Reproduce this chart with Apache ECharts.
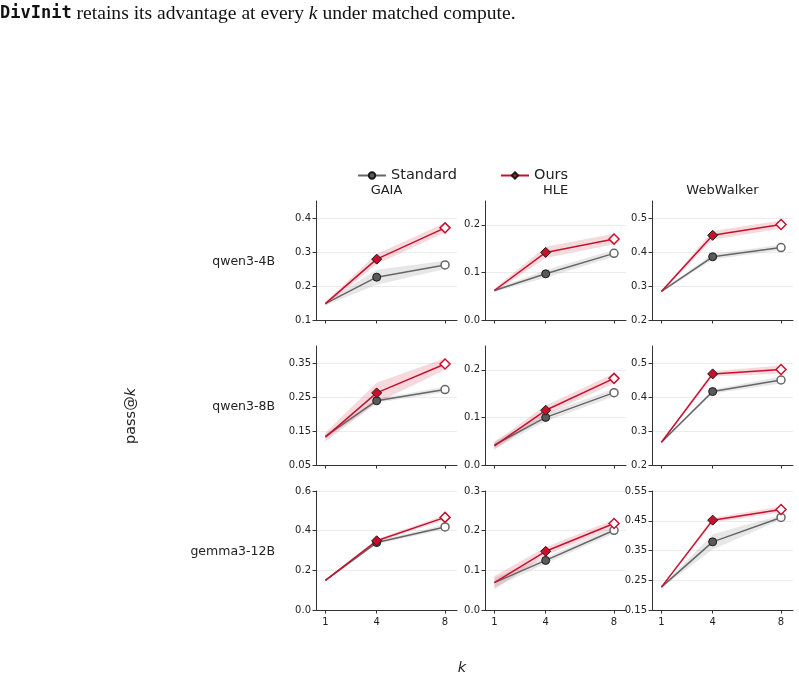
<!DOCTYPE html>
<html><head><meta charset="utf-8">
<script src="https://cdn.jsdelivr.net/npm/echarts@6/dist/echarts.min.js"></script>
<style>html,body{margin:0;padding:0;background:#fff}#c{width:799px;height:680px}</style>
</head><body><div id="c"></div>
<script>
// ---------- data ----------
const K = [1, 4, 8];
const BENCHMARKS = ['GAIA', 'HLE', 'WebWalker'];
const MODELS = ['qwen3-4B', 'qwen3-8B', 'gemma3-12B'];

// qwen3-4B
const std_q4_gaia = [0.148, 0.226, 0.262];  const stdErr_q4_gaia = [0.005, 0.022, 0.012];
const ours_q4_gaia = [0.148, 0.279, 0.371]; const oursErr_q4_gaia = [0.006, 0.015, 0.014];
const std_q4_hle = [0.062, 0.097, 0.140];   const stdErr_q4_hle = [0.003, 0.008, 0.007];
const ours_q4_hle = [0.062, 0.142, 0.170];  const oursErr_q4_hle = [0.004, 0.012, 0.011];
const std_q4_web = [0.284, 0.386, 0.413];   const stdErr_q4_web = [0.003, 0.008, 0.008];
const ours_q4_web = [0.284, 0.449, 0.481];  const oursErr_q4_web = [0.003, 0.013, 0.012];
// qwen3-8B
const std_q8_gaia = [0.134, 0.239, 0.272];  const stdErr_q8_gaia = [0.006, 0.006, 0.008];
const ours_q8_gaia = [0.132, 0.262, 0.347]; const oursErr_q8_gaia = [0.013, 0.030, 0.017];
const std_q8_hle = [0.042, 0.100, 0.152];   const stdErr_q8_hle = [0.008, 0.008, 0.008];
const ours_q8_hle = [0.040, 0.115, 0.182];  const oursErr_q8_hle = [0.008, 0.010, 0.010];
const std_q8_web = [0.267, 0.416, 0.450];   const stdErr_q8_web = [0.003, 0.006, 0.010];
const ours_q8_web = [0.267, 0.468, 0.481];  const oursErr_q8_web = [0.003, 0.008, 0.012];
// gemma3-12B
const std_g12_gaia = [0.149, 0.340, 0.419];  const stdErr_g12_gaia = [0.004, 0.008, 0.012];
const ours_g12_gaia = [0.149, 0.349, 0.467]; const oursErr_g12_gaia = [0.004, 0.008, 0.012];
const std_g12_hle = [0.069, 0.125, 0.201];   const stdErr_g12_hle = [0.012, 0.008, 0.008];
const ours_g12_hle = [0.069, 0.148, 0.218];  const oursErr_g12_hle = [0.017, 0.010, 0.010];
const std_g12_web = [0.227, 0.379, 0.461];   const stdErr_g12_web = [0.003, 0.026, 0.008];
const ours_g12_web = [0.227, 0.452, 0.488];  const oursErr_g12_web = [0.003, 0.008, 0.010];

// y-axis ranges and tick labels (rows: models, cols: benchmarks)
const yRange_q4 = [[0.1, 0.45], [0, 0.25], [0.2, 0.55]];
const yTicks_q4 = [[0.1, 0.2, 0.3, 0.4], [0, 0.1, 0.2], [0.2, 0.3, 0.4, 0.5]];
const yRange_q8 = [[0.05, 0.40], [0, 0.25], [0.2, 0.55]];
const yTicks_q8 = [[0.05, 0.15, 0.25, 0.35], [0, 0.1, 0.2], [0.2, 0.3, 0.4, 0.5]];
const yRange_g12 = [[0, 0.6], [0, 0.3], [0.15, 0.55]];
const yTicks_g12 = [[0, 0.2, 0.4, 0.6], [0, 0.1, 0.2, 0.3], [0.15, 0.25, 0.35, 0.45, 0.55]];
const xTicks = [1, 4, 8];

// ---------- assembly ----------
const rows = [
  {std: [std_q4_gaia, std_q4_hle, std_q4_web], stdErr: [stdErr_q4_gaia, stdErr_q4_hle, stdErr_q4_web],
   ours: [ours_q4_gaia, ours_q4_hle, ours_q4_web], oursErr: [oursErr_q4_gaia, oursErr_q4_hle, oursErr_q4_web],
   range: yRange_q4, ticks: yTicks_q4},
  {std: [std_q8_gaia, std_q8_hle, std_q8_web], stdErr: [stdErr_q8_gaia, stdErr_q8_hle, stdErr_q8_web],
   ours: [ours_q8_gaia, ours_q8_hle, ours_q8_web], oursErr: [oursErr_q8_gaia, oursErr_q8_hle, oursErr_q8_web],
   range: yRange_q8, ticks: yTicks_q8},
  {std: [std_g12_gaia, std_g12_hle, std_g12_web], stdErr: [stdErr_g12_gaia, stdErr_g12_hle, stdErr_g12_web],
   ours: [ours_g12_gaia, ours_g12_hle, ours_g12_web], oursErr: [oursErr_g12_gaia, oursErr_g12_hle, oursErr_g12_web],
   range: yRange_g12, ticks: yTicks_g12}
];

const FONT = 'DejaVu Sans';
const RED = '#c8102e', GRAY = '#666666';
const colLeft = [316, 485, 652], rowTop = [201, 346, 491], W = 141, H = 119;
const axisColor = '#333';

const grids = [], xAxes = [], yAxes = [], series = [], graphics = [];

function decimals(ticks) {
  return ticks.some(t => Math.abs(t * 10 - Math.round(t * 10)) > 1e-9) ? 2 : 1;
}

function band(p, mean, err, color) {
  const pts = mean.map((m, i) => [K[i], m - err[i], m + err[i]]);
  return {
    type: 'custom', xAxisIndex: p, yAxisIndex: p, silent: true, z: 1,
    encode: {x: 0, y: [1, 2]},
    data: pts,
    renderItem: function (params, api) {
      if (params.dataIndex !== 0) return null;
      const upper = pts.map(d => api.coord([d[0], d[2]]));
      const lower = pts.map(d => api.coord([d[0], d[1]])).reverse();
      return {type: 'polygon', shape: {points: upper.concat(lower)}, style: {fill: color}};
    }
  };
}

function mainLine(p, name, mean, lineColor, fill, symbol, size) {
  return {
    type: 'line', name: name, xAxisIndex: p, yAxisIndex: p, z: 3,
    symbol: symbol, symbolSize: size, showAllSymbol: true,
    lineStyle: {color: lineColor, width: 1.5},
    itemStyle: {color: fill, borderColor: '#1a1a1a', borderWidth: 1},
    data: mean.map((m, i) => {
      if (i === 0) return {value: [K[i], m], symbol: 'none'};
      if (i === mean.length - 1) return {value: [K[i], m], itemStyle: {color: '#ffffff', borderColor: lineColor, borderWidth: 1.5}};
      return {value: [K[i], m]};
    })
  };
}

rows.forEach((row, r) => {
  BENCHMARKS.forEach((b, c) => {
    const p = r * 3 + c;
    grids.push({left: colLeft[c], top: rowTop[r], width: W, height: H});
    xAxes.push({
      type: 'value', gridIndex: p, min: 0.45, max: 8.7,
      axisLine: {show: true, onZero: false, lineStyle: {color: axisColor, width: 1}},
      axisTick: {show: true, length: 3.5, customValues: xTicks, lineStyle: {color: axisColor}},
      axisLabel: {show: r === 2, customValues: xTicks, fontSize: 10, color: '#222', fontFamily: FONT, margin: 7},
      splitLine: {show: false}
    });
    const dec = decimals(row.ticks[c]);
    yAxes.push({
      type: 'value', gridIndex: p, min: row.range[c][0], max: row.range[c][1],
      axisLine: {show: true, onZero: false, lineStyle: {color: axisColor, width: 1}},
      axisTick: {show: true, length: 3.5, customValues: row.ticks[c], lineStyle: {color: axisColor}},
      axisLabel: {show: true, customValues: row.ticks[c], fontSize: 10, color: '#222', fontFamily: FONT, margin: 5,
                  formatter: v => Number(v).toFixed(dec)},
      splitLine: {show: true, lineStyle: {color: '#ececec', width: 1}}
    });
    series.push(band(p, row.std[c], row.stdErr[c], 'rgba(120,120,120,0.18)'));
    series.push(band(p, row.ours[c], row.oursErr[c], 'rgba(200,16,46,0.16)'));
    series.push(mainLine(p, 'Standard', row.std[c], GRAY, '#5a5a5a', 'circle', 8));
    series.push(mainLine(p, 'Ours', row.ours[c], RED, RED, 'diamond', 10));
  });
  graphics.push({type: 'text', right: 799 - 275, top: rowTop[r] + H / 2 - 5,
    style: {text: MODELS[r], fontSize: 12.5, fontFamily: FONT, fill: '#222', textAlign: 'right'}});
});

BENCHMARKS.forEach((b, c) => {
  graphics.push({type: 'text', x: colLeft[c] + W / 2, y: 191,
    style: {text: b, fontSize: 13, fontFamily: FONT, fill: '#222', textAlign: 'center', textVerticalAlign: 'middle'}});
});

graphics.push({type: 'text', x: 131, y: 416, rotation: Math.PI / 2,
  style: {text: '{a|pass@}{b|k}', textAlign: 'center', textVerticalAlign: 'middle',
    rich: {a: {fontSize: 14.5, fontFamily: FONT, fill: '#222'},
           b: {fontSize: 14.5, fontFamily: FONT, fontStyle: 'italic', fill: '#222'}}}});
graphics.push({type: 'text', x: 462, y: 668,
  style: {text: 'k', fontSize: 14.5, fontFamily: FONT, fontStyle: 'italic', fill: '#222',
    textAlign: 'center', textVerticalAlign: 'middle'}});
graphics.push({type: 'text', x: 0, y: 13.5,
  style: {text: '{a|DivInit}{b| retains its advantage at every }{k|k}{b| under matched compute.}',
    textVerticalAlign: 'middle',
    rich: {a: {fontSize: 17, fontFamily: 'DejaVu Sans Mono', fontWeight: 'bold', fill: '#111'},
           b: {fontSize: 19.6, fontFamily: 'Liberation Serif', fill: '#111'},
           k: {fontSize: 19.6, fontFamily: 'Liberation Serif', fontStyle: 'italic', fill: '#111'}}}});

const chart = echarts.init(document.getElementById('c'), null, {renderer: 'canvas'});
chart.setOption({
  animation: false,
  backgroundColor: '#ffffff',
  textStyle: {fontFamily: FONT},
  legend: {data: ['Standard', 'Ours'], left: 357, top: 168, padding: 0, itemWidth: 28, itemHeight: 8, itemGap: 43,
    textStyle: {fontSize: 14.5, color: '#222', fontFamily: FONT}},
  grid: grids, xAxis: xAxes, yAxis: yAxes, series: series, graphic: graphics
});
</script></body></html>
